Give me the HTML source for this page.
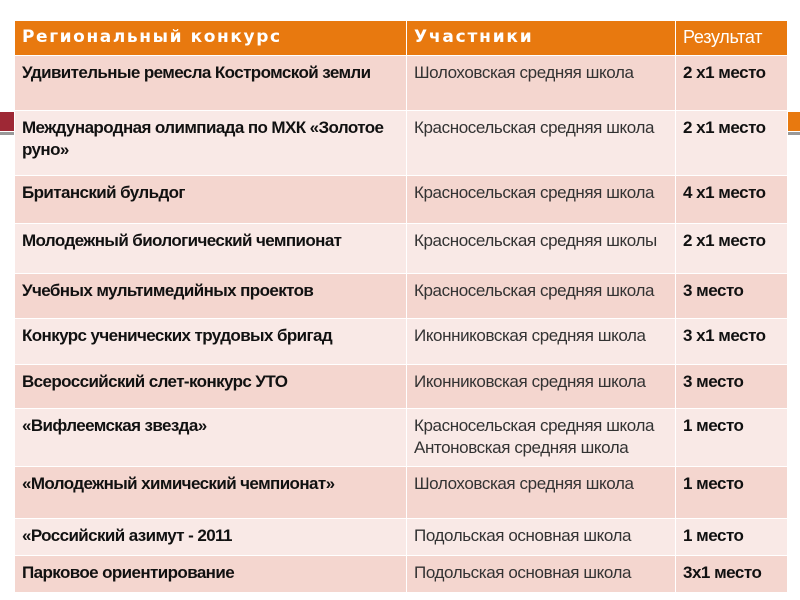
<!DOCTYPE html><html><head><meta charset="utf-8"><style>
body{margin:0;width:800px;height:600px;background:#fff;position:relative;overflow:hidden;font-family:"Liberation Sans",sans-serif}
.d{position:absolute}
table{position:absolute;left:14px;top:20px;width:773px;border-collapse:collapse;table-layout:fixed}
td{border:1px solid #fff;vertical-align:top;padding:6px 7px 0 7px;font-size:17px;line-height:22px;color:#111}
td.c1{font-weight:bold;letter-spacing:-0.6px}
td.c2{color:#333;letter-spacing:-0.4px}
td.c3{font-weight:bold;letter-spacing:-0.5px}
tr.h td{background:#e8790f;color:#fff;height:29px;font-size:18px;padding-top:5px}
tr.a td{background:#f4d6cf}
tr.b td{background:#f9e9e6}
</style></head><body>
<div class="d" style="left:0;top:112px;width:14px;height:19px;background:#9e2835"></div>
<div class="d" style="left:0;top:132px;width:14px;height:3px;background:#999"></div>
<div class="d" style="left:787px;top:112px;width:13px;height:19px;background:#e8790f"></div>
<div class="d" style="left:787px;top:132px;width:13px;height:3px;background:#999"></div>
<table>
<colgroup><col style="width:392px"><col style="width:269px"><col style="width:112px"></colgroup>
<tr class="h"><td style="font-weight:bold;letter-spacing:1.6px;font-family:'DejaVu Sans',sans-serif;font-size:17px">Региональный конкурс</td><td style="font-weight:bold;letter-spacing:1.8px;font-family:'DejaVu Sans',sans-serif;font-size:17px">Участники</td><td style="color:#fff;letter-spacing:-0.3px">Результат</td></tr>
<tr class="a" style="height:55px"><td class="c1">Удивительные ремесла Костромской земли</td><td class="c2">Шолоховская средняя школа</td><td class="c3">2 х1 место</td></tr>
<tr class="b" style="height:65px"><td class="c1">Международная олимпиада по МХК «Золотое руно»</td><td class="c2">Красносельская средняя школа</td><td class="c3">2 х1 место</td></tr>
<tr class="a" style="height:48px"><td class="c1">Британский бульдог</td><td class="c2">Красносельская средняя школа</td><td class="c3">4 х1 место</td></tr>
<tr class="b" style="height:50px"><td class="c1">Молодежный  биологический чемпионат</td><td class="c2">Красносельская средняя школы</td><td class="c3">2 х1 место</td></tr>
<tr class="a" style="height:45px"><td class="c1">Учебных  мультимедийных проектов</td><td class="c2">Красносельская средняя школа</td><td class="c3">3 место</td></tr>
<tr class="b" style="height:46px"><td class="c1">Конкурс ученических трудовых бригад</td><td class="c2">Иконниковская средняя школа</td><td class="c3">3 х1 место</td></tr>
<tr class="a" style="height:44px"><td class="c1">Всероссийский слет-конкурс УТО</td><td class="c2">Иконниковская средняя школа</td><td class="c3">3 место</td></tr>
<tr class="b" style="height:58px"><td class="c1">«Вифлеемская звезда»</td><td class="c2">Красносельская средняя школа Антоновская средняя школа</td><td class="c3">1 место</td></tr>
<tr class="a" style="height:52px"><td class="c1">«Молодежный химический чемпионат»</td><td class="c2">Шолоховская средняя школа</td><td class="c3">1 место</td></tr>
<tr class="b" style="height:37px"><td class="c1">«Российский азимут - 2011</td><td class="c2">Подольская основная школа</td><td class="c3">1 место</td></tr>
<tr class="a" style="height:37px"><td class="c1">Парковое ориентирование</td><td class="c2">Подольская основная школа</td><td class="c3">3х1 место</td></tr>
</table>
</body></html>
